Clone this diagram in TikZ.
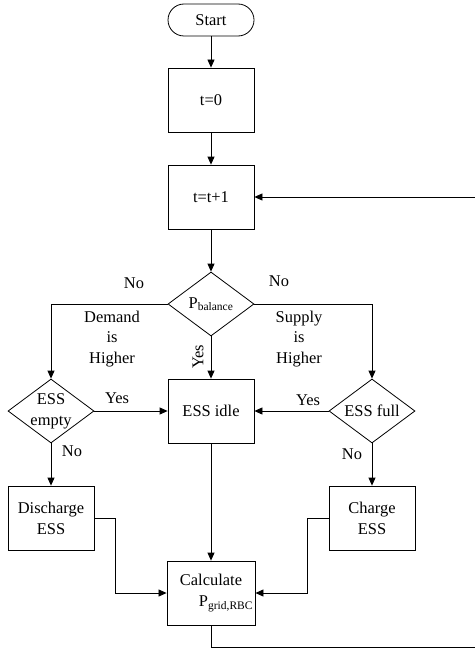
\documentclass[tikz,border=0pt]{standalone}
\usepackage{fontspec}
\setmainfont{Liberation Serif}
\usetikzlibrary{shapes.geometric,arrows.meta}

\tikzset{
	blk/.style={draw, line width=0.8bp, minimum width=86bp, minimum height=64bp, align=center, inner sep=2bp},
	term/.style={draw, line width=0.8bp, rounded corners=16bp, minimum width=86bp, minimum height=32bp, inner sep=2bp},
	dec/.style={draw, line width=0.8bp, diamond, aspect=1.34, minimum width=86bp, minimum height=64bp, align=center, inner sep=-3bp},
	flow/.style={line width=0.8bp, -{Triangle[length=8bp,width=7bp]}},
	lbl/.style={align=center, inner sep=0pt}
}

\begin{document}
\begin{tikzpicture}[x=1bp, y=-1bp, font=\fontsize{16.5}{21}\selectfont]

	\useasboundingbox (0,0) rectangle (475,650);

	\node [term] (start) at (211, 20) {Start};
	\node [blk] (tzero) at (211, 100) {t=0};
	\node [blk] (tnext) at (211, 197) {t=t+1};
	\node [dec] (pbal) at (211, 304) {P\textsubscript{balance}};

	\node [dec] (empty) at (51, 411) {ESS\\empty};
	\node [blk] (idle) at (211, 411) {ESS idle};
	\node [dec] (full) at (372, 411) {ESS full};

	\node [blk] (dis) at (51, 518) {Discharge\\ESS};
	\node [blk] (chg) at (372, 518) {Charge\\ESS};
	\node [blk] (calc) at (211, 593) {Calculate\\\hspace*{30bp}P\textsubscript{grid,RBC}};

	\coordinate (loopa) at (478, 647);
	\coordinate (loopb) at (478, 197);

	\draw [flow] (start) -- (tzero);
	\draw [flow] (tzero) -- (tnext);
	\draw [flow] (tnext) -- (pbal);

	\draw [flow] (pbal.west) -| (empty.north);
	\draw [flow] (pbal.east) -| (full.north);
	\draw [flow] (pbal) -- (idle);
	\node [lbl] at (134, 283) {No};
	\node [lbl] at (279, 281) {No};
	\node [lbl] at (112, 339) {Demand\\is\\Higher};
	\node [lbl] at (299, 339) {Supply\\is\\Higher};
	\node [lbl, rotate=90] at (198, 357) {Yes};

	\draw [flow] (empty.east) -- (idle.west);
	\draw [flow] (full.west) -- (idle.east);
	\node [lbl] at (117, 398) {Yes};
	\node [lbl] at (308, 400) {Yes};

	\draw [flow] (empty) -- (dis);
	\draw [flow] (full) -- (chg);
	\node [lbl] at (72, 451) {No};
	\node [lbl] at (352, 454) {No};

	\draw [flow] (dis.east) -- ++(21,0) |- (calc.west);
	\draw [flow] (chg.west) -- ++(-21,0) |- (calc.east);
	\draw [flow] (idle) -- (calc);

	\draw [flow] (calc.south) |- (loopa) -- (loopb) -- (tnext.east);
\end{tikzpicture}
\end{document}
